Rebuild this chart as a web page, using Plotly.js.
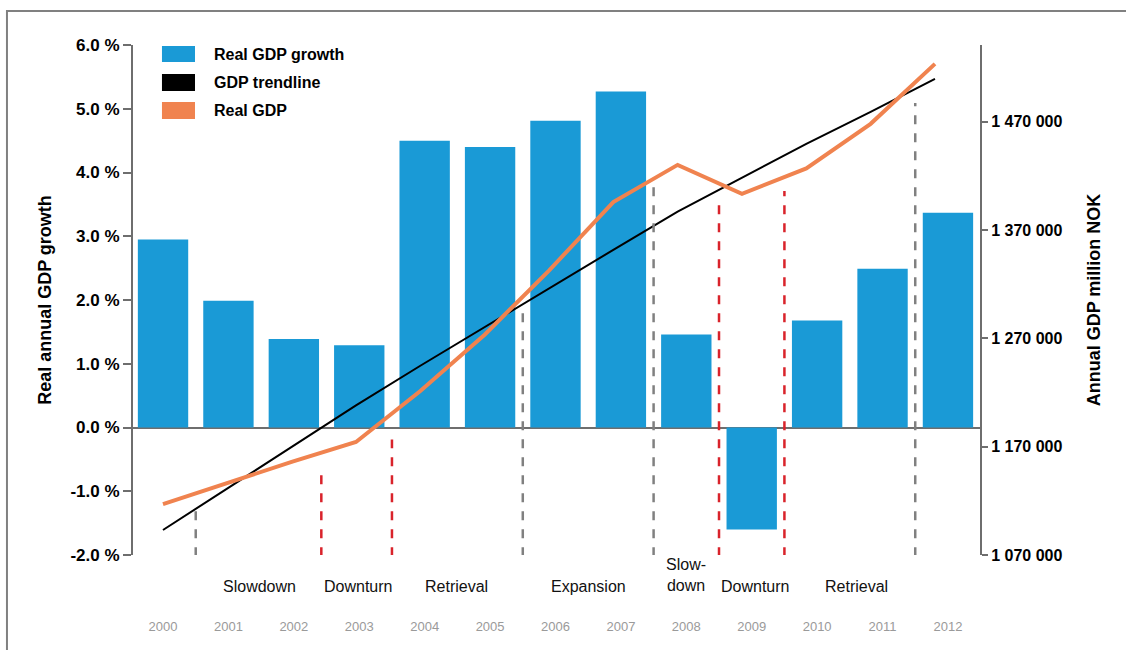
<!DOCTYPE html>
<html>
<head>
<meta charset="utf-8">
<script src="https://cdn.plot.ly/plotly-3.0.1.min.js"></script>
<style>html,body{margin:0;padding:0;background:#fff;}#chart{width:1126px;height:650px;}</style>
</head>
<body>
<div id="chart"></div>
<script>
// ---- data ----
const years = ["2000","2001","2002","2003","2004","2005","2006","2007","2008","2009","2010","2011","2012"];
const yearIndex = [0,1,2,3,4,5,6,7,8,9,10,11,12];
const realGdpGrowth = [2.95, 1.99, 1.39, 1.29, 4.50, 4.40, 4.81, 5.27, 1.46, -1.60, 1.68, 2.49, 3.37];
const realGdp = [1117000, 1136500, 1156000, 1174400, 1221500, 1273400, 1332700, 1396000, 1430300, 1403500, 1427000, 1468200, 1523600];
const gdpTrend = [1093100, 1131400, 1169800, 1208100, 1244800, 1280600, 1316100, 1351800, 1387200, 1418300, 1449700, 1479200, 1509700];
const growthTicks = [-2, -1, 0, 1, 2, 3, 4, 5, 6];
const growthTickText = ["-2.0 %", "-1.0 %", "0.0 %", "1.0 %", "2.0 %", "3.0 %", "4.0 %", "5.0 %", "6.0 %"];
const gdpTicks = [1070000, 1170000, 1270000, 1370000, 1470000];
const gdpTickText = ["1 070 000", "1 170 000", "1 270 000", "1 370 000", "1 470 000"];
const phaseLabels = ["Slowdown", "Downturn", "Retrieval", "Expansion", "Slow-<br>down", "Downturn", "Retrieval"];
const phaseCenters = [1.47, 2.98, 4.49, 6.5, 8.0, 9.05, 10.6];
const boundaryPos = [0.5, 2.42, 3.5, 5.5, 7.5, 8.5, 9.5, 11.5];
const boundaryTop = [-1.21, -0.67, -0.19, 1.82, 3.79, 3.57, 3.71, 5.09];
const boundaryKind = ["grey","red","red","grey","grey","red","red","grey"];
const legendNames = ["Real GDP growth", "GDP trendline", "Real GDP"];

const BLUE = "#1a9ad6", ORANGE = "#f0834f", BLACK = "#000000";
const FONT = "Liberation Sans, Arial, sans-serif";

const traces = [
  {type:"bar", x: yearIndex, y: realGdpGrowth, width: 0.77, marker:{color: BLUE},
   xaxis:"x", yaxis:"y", showlegend:false, hoverinfo:"y"},
  {type:"scatter", mode:"lines", x: yearIndex, y: gdpTrend, line:{color: BLACK, width: 2},
   xaxis:"x2", yaxis:"y2", showlegend:false},
  {type:"scatter", mode:"lines", x: yearIndex, y: realGdp, line:{color: ORANGE, width: 4},
   xaxis:"x2", yaxis:"y2", showlegend:false}
];

const shapes = [];
// frame
shapes.push({type:"rect", xref:"paper", yref:"paper", x0:-0.1488, x1:1.5, y0:-0.3, y1:1.0667,
  line:{color:"#808080", width:2}, layer:"below"});
boundaryPos.forEach((p,i)=>{
  shapes.push({type:"line", xref:"x", yref:"y", x0:p, x1:p, y0:-2.02, y1:boundaryTop[i],
    line:{color: boundaryKind[i]==="red" ? "#d9232b" : "#808080", width:2.5, dash:"dash"}});
});
// legend swatches
const swCol = [BLUE, BLACK, ORANGE];
const swY = [[0.9667,0.998],[0.9098,0.943],[0.855,0.888]];
const annotations = [];
legendNames.forEach((n,i)=>{
  shapes.push({type:"rect", xref:"paper", yref:"paper", x0:0.0342, x1:0.0732, y0:swY[i][0], y1:swY[i][1],
    fillcolor: swCol[i], line:{width:0}});
  annotations.push({xref:"paper", yref:"paper", x:0.0933, y:(swY[i][0]+swY[i][1])/2, xanchor:"left", yanchor:"middle",
    text:"<b>"+n+"</b>", showarrow:false, font:{family:FONT, size:16, color:"#000"}});
});
phaseLabels.forEach((t,i)=>{
  annotations.push({xref:"x", yref:"paper", x: phaseCenters[i], y:-0.061, yanchor: i===4 ? "bottom" : "middle",
    yshift: i===4 ? -10 : 0,
    text:t, showarrow:false, font:{family:FONT, size:16, color:"#111"}});
});

const layout = {
  width:1126, height:650,
  margin:{l:133, r:146, t:45, b:95, pad:0},
  paper_bgcolor:"#fff", plot_bgcolor:"rgba(0,0,0,0)",
  showlegend:false,
  font:{family:FONT, color:"#000"},
  xaxis:{range:[-0.459, 12.49], tickvals: yearIndex, ticktext: years, showgrid:false, zeroline:false,
    showline:false, ticks:"", ticklabelstandoff:62, tickfont:{family:FONT, size:13, color:"#9a9a9a"}, fixedrange:true},
  xaxis2:{overlaying:"x", range:[-0.466, 12.70], visible:false, fixedrange:true},
  yaxis:{range:[-2, 6], tickvals: growthTicks, ticktext: growthTickText, showgrid:false,
    zeroline:true, zerolinecolor:"#6e6e6e", zerolinewidth:2,
    showline:true, linecolor:"#6e6e6e", linewidth:2, ticks:"outside", ticklen:8, tickcolor:"#6e6e6e", tickwidth:2,
    tickfont:{family:FONT, size:17, color:"#000", weight:"bold"},
    title:{text:"<b>Real annual GDP growth</b>", font:{family:FONT, size:18, color:"#000"}, standoff:14}},
  yaxis2:{overlaying:"y", side:"right", range:[1070000, 1541000], tickvals: gdpTicks, ticktext: gdpTickText,
    showgrid:false, zeroline:false,
    showline:true, linecolor:"#6e6e6e", linewidth:2, ticks:"outside", ticklen:6, tickcolor:"#6e6e6e", tickwidth:2,
    tickfont:{family:FONT, size:16, color:"#000", weight:"bold"},
    title:{text:"<b>Annual GDP million NOK</b>", font:{family:FONT, size:18, color:"#000"}, standoff:26}},
  shapes: shapes,
  annotations: annotations
};

Plotly.newPlot("chart", traces, layout, {displayModeBar:false, staticPlot:true});
</script>
</body>
</html>
